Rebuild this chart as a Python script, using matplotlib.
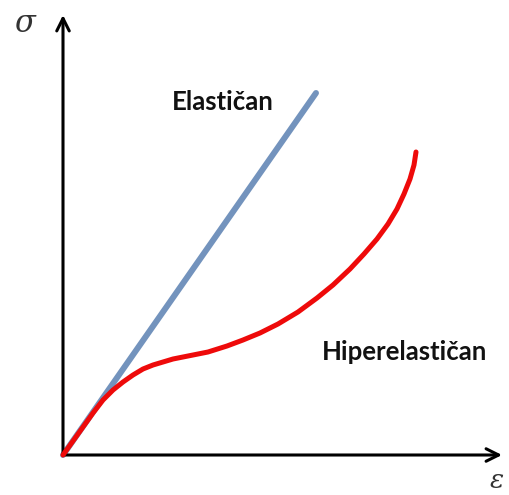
import numpy as np
import matplotlib.pyplot as plt

# deformacija / naprezanje (proizvoljne jedinice, ishodiste u presjeku osi)
eps_elast = np.array([0, 253])
sig_elast = np.array([0, 362])

eps_hiper = np.array([0, 15, 30, 40, 50, 60, 70, 80, 90, 100, 110, 120, 130,
                      145, 164, 180, 197, 215, 235, 254, 270, 287, 301, 314,
                      325, 334, 341, 347, 351, 353])
sig_hiper = np.array([0, 21, 42, 55, 65, 73, 80, 86, 90, 93, 96, 98, 100,
                      103, 109, 115, 122, 131, 143, 157, 170, 186, 201, 216,
                      231, 246, 261, 276, 290, 303])

W, H = 509, 495
x0, y0 = 63, 455          # ishodiste u pikselima
x_tip, y_tip = 502, 15

fig = plt.figure(figsize=(W / 100, H / 100), dpi=100)
ax = fig.add_axes([x0 / W, (H - y0) / H, (x_tip - x0) / W, (y0 - y_tip) / H])
ax.set_xlim(0, x_tip - x0)
ax.set_ylim(0, y0 - y_tip)
ax.axis("off")

# osi sa strelicama
arrow = dict(arrowstyle="->,head_length=0.9,head_width=0.45", color="black",
             lw=2.2, shrinkA=0, shrinkB=0)
ax.annotate("", xy=(x_tip - x0, 0), xytext=(0, 0), arrowprops=arrow,
            annotation_clip=False)
ax.annotate("", xy=(0, y0 - y_tip), xytext=(0, 0), arrowprops=arrow,
            annotation_clip=False)

ax.plot(eps_elast, sig_elast, color="#7393BD", lw=4.3, solid_capstyle="round",
        clip_on=False)
ax.plot(eps_hiper, sig_hiper, color="#EE0A0A", lw=3.6, solid_capstyle="round",
        solid_joinstyle="round", clip_on=False, zorder=3)

fig.text(172 / W, 1 - 102 / H, "Elastičan", fontsize=18.5, fontweight="bold",
         family="Lato", va="center", ha="left", color="#111111")
fig.text(322 / W, 1 - 352 / H, "Hiperelastičan", fontsize=18.5,
         fontweight="bold", family="Lato", va="center", ha="left",
         color="#111111")
fig.text(14 / W, 1 - 24 / H, "σ", fontsize=22, style="italic",
         family="DejaVu Serif", va="center", ha="left", color="#333333")
fig.text(504 / W, 1 - 481 / H, "ε", fontsize=19, style="italic",
         family="DejaVu Serif", va="center", ha="right", color="#333333")

fig.savefig("out.png", dpi=100)
